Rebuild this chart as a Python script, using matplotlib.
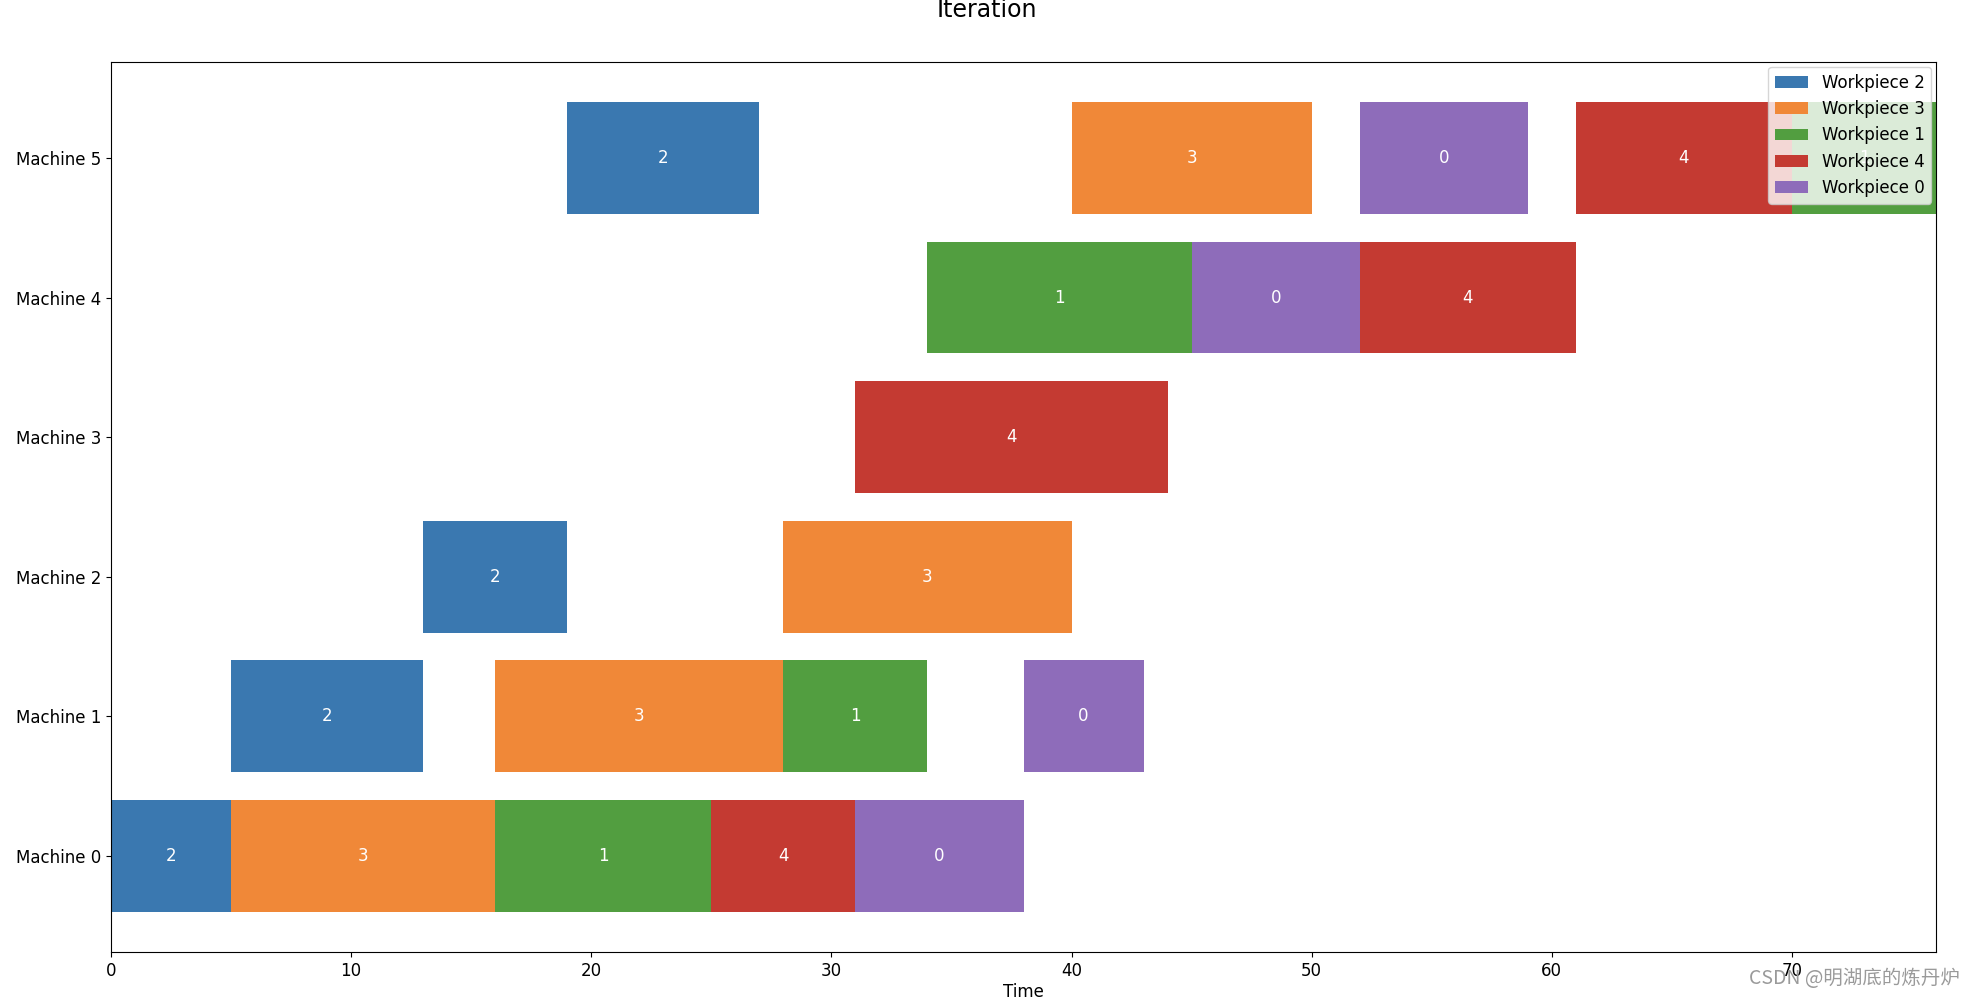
import matplotlib
matplotlib.use('Agg')
from matplotlib import pyplot as plt

# Schedule: one list per column
machine = [0, 0, 0, 0, 0,
           1, 1, 1, 1,
           2, 2,
           3,
           4, 4, 4,
           5, 5, 5, 5, 5]
workpiece = [2, 3, 1, 4, 0,
             2, 3, 1, 0,
             2, 3,
             4,
             1, 0, 4,
             2, 3, 0, 4, 1]
start = [0, 5, 16, 25, 31,
         5, 16, 28, 38,
         13, 28,
         31,
         34, 45, 52,
         19, 40, 52, 61, 70]
finish = [5, 16, 25, 31, 38,
          13, 28, 34, 43,
          19, 40,
          44,
          45, 52, 61,
          27, 50, 59, 70, 76]

machine_labels = ['Machine 0', 'Machine 1', 'Machine 2', 'Machine 3', 'Machine 4', 'Machine 5']
colors = {2: '#3a78b0', 3: '#f08838', 1: '#529e40', 4: '#c43a32', 0: '#8e6cba'}

plt.rcParams['font.size'] = 12

fig = plt.figure(figsize=(19.74, 9.98), dpi=100)
ax = fig.add_axes([0.0562, 0.046, 0.9246, 0.892])

seen = set()
for m, w, s, f in zip(machine, workpiece, start, finish):
    lab = None
    if w not in seen:
        lab = 'Workpiece %d' % w
        seen.add(w)
    ax.barh(m, f - s, left=s, height=0.8, color=colors[w], label=lab)
    ax.text((s + f) / 2, m, str(w), color='white', ha='center', va='center', fontsize=12)

ax.set_yticks(range(len(machine_labels)))
ax.set_yticklabels(machine_labels)
ax.set_xlim(0, max(finish))
ax.set_xlabel('Time', labelpad=2)
ax.legend(loc='upper right', borderaxespad=0.3)

fig.suptitle('Iteration', y=0.99, va='center', fontsize=17)
fig.text(0.993, 0.02, 'CSDN @明湖底的炼丹炉', ha='right', va='center', fontsize=14,
         color='#9a9a9a', family=['Noto Sans CJK SC', 'DejaVu Sans'])

plt.savefig('out.png', dpi=100)
